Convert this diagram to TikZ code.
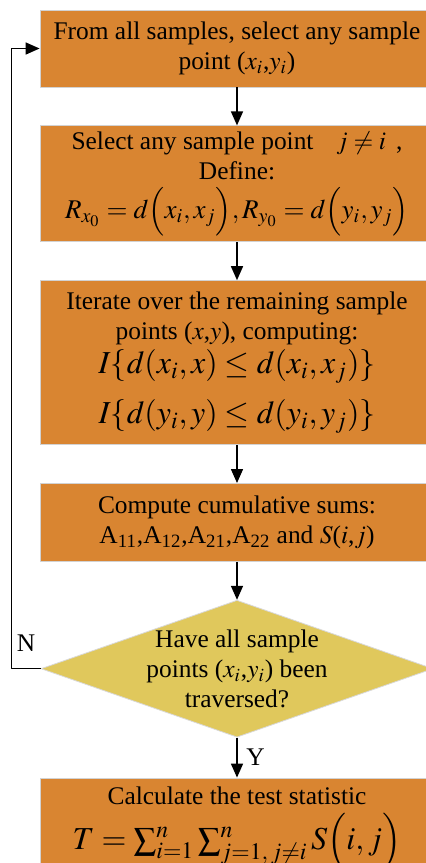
\documentclass[tikz,border=0pt]{standalone}
\usepackage{mathptmx}
\usepackage{fontspec}
\setmainfont{Liberation Serif}
\usetikzlibrary{arrows.meta, positioning, shapes.geometric}

\definecolor{boxorange}{RGB}{217,133,49}
\definecolor{decyellow}{RGB}{224,200,92}

\begin{document}
\begin{tikzpicture}[
    >={Triangle[length=7pt,width=6pt]},
    line join=round,
    font=\fontsize{12.7}{15}\selectfont,
    node distance=19pt,
    stepbox/.style={rectangle, fill=boxorange, draw=gray!35, line width=0.4pt,
                    minimum width=197pt, align=center, inner sep=0pt},
    decision/.style={diamond, fill=decyellow, draw=gray!30, line width=0.4pt,
                     minimum width=196pt, minimum height=68.5pt, inner sep=0pt},
    flow/.style={->, line width=0.75pt}
]

  % ==================== FRAME ====================
  \useasboundingbox (0,0) rectangle (213pt,-431.5pt);

  % ==================== 1. PICK POINT i ====================
  \node[stepbox, minimum height=38.5pt] (pick) at (118.5pt,-24.25pt)
    {From all samples, select any sample\\ point ($x_i$,$y_i$)};

  % ==================== 2. PICK POINT j ====================
  \node[stepbox, minimum height=58pt, below=of pick] (define)
    {Select any sample point\hspace{0.9em}$j\neq i$\hspace{0.4em},\\
     Define:\\[3pt]
     {\fontsize{13.5}{16}\selectfont$R_{x_0}=d\Bigl(x_i,x_j\Bigr),R_{y_0}=d\Bigl(y_i,y_j\Bigr)$}};

  % ==================== 3. ITERATE ====================
  \node[stepbox, minimum height=82pt, below=of define] (iterate)
    {Iterate over the remaining sample\\
     points ($x$,$y$), computing:\\[2pt]
     {\fontsize{16}{18}\selectfont$I\{d(x_i,x)\leq d(x_i,x_j)\}$}\\[7pt]
     {\fontsize{16}{18}\selectfont$I\{d(y_i,y)\leq d(y_i,y_j)\}$}};

  % ==================== 4. SUMS ====================
  \node[stepbox, minimum height=39pt, below=of iterate] (sums)
    {Compute cumulative sums:\\
     A\textsubscript{11},A\textsubscript{12},A\textsubscript{21},A\textsubscript{22} and $S$($i$,$j$)};

  % ==================== 5. DECISION ====================
  \node[decision, below=of sums] (check) {};
  \node[align=center] (checktext) at (check) {Have all sample\\ points ($x_i$,$y_i$) been\\ traversed?};

  % ==================== 6. TEST STATISTIC ====================
  \node[stepbox, inner ysep=4.5pt, below=20pt of check] (stat)
    {Calculate the test statistic\\[3pt]
     {\fontsize{16}{18}\selectfont$T=\sum_{i=1}^{n}\sum_{j=1,\,j\neq i}^{n}S\Bigl(i,j\Bigr)$}};

  % ==================== ARROWS ====================
  \draw[flow] (pick) -- (define);
  \draw[flow] (define) -- (iterate);
  \draw[flow] (iterate) -- (sums);
  \draw[flow] (sums) -- (check);
  \draw[flow] (check) -- node[right, xshift=1pt] {Y} (stat);
  \draw[flow] (check.west) -- node[above, yshift=5pt] {N} ++(-14.5pt,0) |- (pick.west);

\end{tikzpicture}
\end{document}
